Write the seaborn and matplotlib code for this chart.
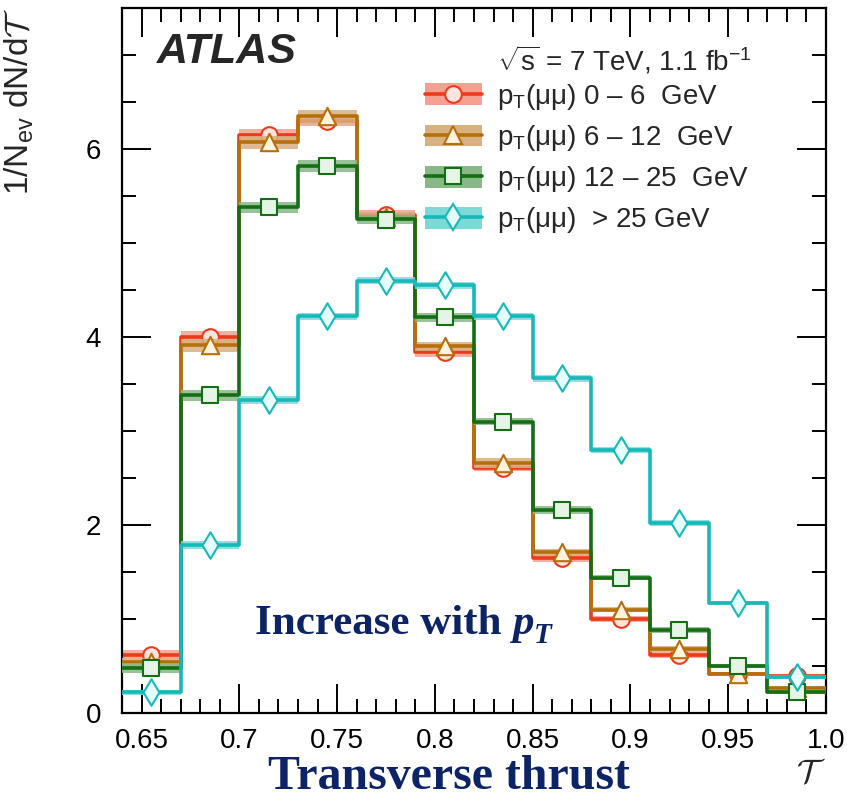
import numpy as np
import pandas as pd
import matplotlib
matplotlib.use("Agg")
import matplotlib.pyplot as plt
import seaborn as sns
from matplotlib.patches import Patch
from matplotlib.lines import Line2D
from matplotlib.ticker import MultipleLocator

# ---------------- data ----------------
bin_edges = [0.64, 0.67, 0.70, 0.73, 0.76, 0.79, 0.82, 0.85, 0.88, 0.91, 0.94, 0.97, 1.00]
series_labels = [
    r"p$_{\rm T}$(μμ) 0 – 6  GeV",
    r"p$_{\rm T}$(μμ) 6 – 12  GeV",
    r"p$_{\rm T}$(μμ) 12 – 25  GeV",
    r"p$_{\rm T}$(μμ)  > 25 GeV",
]
vals_0_6 = [0.62, 4.00, 6.15, 6.30, 5.30, 3.84, 2.61, 1.65, 1.00, 0.62, 0.41, 0.39]
vals_6_12 = [0.54, 3.91, 6.07, 6.35, 5.28, 3.90, 2.66, 1.71, 1.10, 0.68, 0.41, 0.27]
vals_12_25 = [0.48, 3.38, 5.38, 5.82, 5.25, 4.21, 3.10, 2.16, 1.44, 0.88, 0.50, 0.22]
vals_25 = [0.22, 1.79, 3.33, 4.22, 4.60, 4.55, 4.22, 3.56, 2.80, 2.02, 1.17, 0.38]
err_0_6 = [0.05, 0.06, 0.06, 0.06, 0.05, 0.05, 0.04, 0.04, 0.03, 0.03, 0.02, 0.02]
err_6_12 = [0.05, 0.07, 0.07, 0.07, 0.05, 0.05, 0.05, 0.04, 0.03, 0.03, 0.02, 0.02]
err_12_25 = [0.05, 0.06, 0.06, 0.06, 0.05, 0.05, 0.04, 0.04, 0.03, 0.03, 0.02, 0.02]
err_25 = [0.03, 0.04, 0.04, 0.04, 0.04, 0.04, 0.04, 0.04, 0.03, 0.03, 0.02, 0.02]
x_ticks = [0.65, 0.70, 0.75, 0.80, 0.85, 0.90, 0.95, 1.00]
x_ticklabels = ["0.65", "0.7", "0.75", "0.8", "0.85", "0.9", "0.95", "1.0"]
y_ticks = [0, 2, 4, 6]

all_vals = [vals_0_6, vals_6_12, vals_12_25, vals_25]
all_errs = [err_0_6, err_6_12, err_12_25, err_25]

# ---------------- style ----------------
line_colors = ["#ee3a1a", "#b5700c", "#146e14", "#17b8b8"]
band_colors = ["#f5a090", "#d9b07f", "#88b888", "#7fd8d8"]
face_colors = ["#ffe4de", "#fff2df", "#e6f4e6", "#e6ffff"]
markers = ["o", "^", "s", "d"]
msizes = [12, 12.5, 12, 13.5]

sns.set_theme(style="white")
plt.rcParams["font.family"] = ["Liberation Sans", "DejaVu Sans"]
plt.rcParams["mathtext.fontset"] = "custom"
plt.rcParams["mathtext.rm"] = "Liberation Sans"
plt.rcParams["mathtext.it"] = "Liberation Sans:italic"
plt.rcParams["mathtext.bf"] = "Liberation Sans:bold"
plt.rcParams["mathtext.cal"] = "cmsy10"

fig = plt.figure(figsize=(8.47, 7.99), dpi=100)
ax = fig.add_axes([122 / 847, 1 - 713 / 799, (826 - 122) / 847, (713 - 8) / 799])

edges = np.array(bin_edges)
centers = 0.5 * (edges[:-1] + edges[1:])
widths = np.diff(edges)

handles = []
for i in range(4):
    v = np.array(all_vals[i])
    e = np.array(all_errs[i])
    # uncertainty band
    ax.bar(centers, 2 * e, bottom=v - e, width=widths, color=band_colors[i],
           alpha=0.85, linewidth=0, zorder=2 + i)
    df = pd.DataFrame({"x": centers, "w": v})
    sns.histplot(data=df, x="x", weights="w", bins=list(bin_edges), element="step", fill=False,
                 color=line_colors[i], linewidth=2.6, ax=ax, legend=False, zorder=2.3 + i)
    sns.scatterplot(x=centers, y=v, marker=markers[i], s=msizes[i] ** 2,
                    facecolor=face_colors[i], edgecolor=line_colors[i], linewidth=1.5,
                    ax=ax, legend=False, zorder=2.6 + i)
    h = (Patch(facecolor=band_colors[i], edgecolor="none"),
         Line2D([], [], color=line_colors[i], lw=2.6, marker=markers[i],
                markersize=msizes[i], markerfacecolor=face_colors[i],
                markeredgecolor=line_colors[i], markeredgewidth=1.5))
    handles.append(h)

ax.set_xlim(0.64, 1.0)
ax.set_ylim(0, 7.5)
ax.set_xticks(x_ticks)
ax.set_xticklabels(x_ticklabels)
ax.set_yticks(y_ticks)
ax.xaxis.set_minor_locator(MultipleLocator(0.01))
ax.yaxis.set_minor_locator(MultipleLocator(0.5))
ax.tick_params(which="both", direction="in", top=True, right=True, bottom=True, left=True,
               labelsize=20, colors="black", width=1.4)
ax.tick_params(which="major", length=21)
ax.tick_params(which="minor", length=10)
ax.tick_params(axis="x", pad=11)
ax.tick_params(axis="y", pad=15)
for sp in ax.spines.values():
    sp.set_linewidth(1.6)
    sp.set_color("black")

ax.set_xlabel("")
ax.set_ylabel("")
ax.text(-0.146, 1.0, r"1/N$_{\rm ev}$ dN/d$\mathcal{T}$", transform=ax.transAxes,
        rotation=90, ha="center", va="top", fontsize=24)

ax.text(1.0, -0.063, r"$\mathcal{T}$", transform=ax.transAxes, ha="right", va="top",
        fontsize=24)

ax.text(0.05, 0.938, "ATLAS", transform=ax.transAxes, fontsize=31, fontweight="bold",
        fontstyle="italic", ha="left", va="center")
ax.text(0.532, 0.926, r"$\sqrt{\rm s}$ = 7 TeV, 1.1 fb$^{-1}$", transform=ax.transAxes,
        fontsize=20, ha="left", va="center")

ax.legend(handles=handles, labels=series_labels, loc="upper left",
          bbox_to_anchor=(0.430, 0.895), frameon=False, fontsize=20,
          handlelength=2.05, handleheight=0.83, labelspacing=0.40, handletextpad=0.54,
          borderaxespad=0, borderpad=0)

navy = "#0c2466"
t1 = ax.text(0.189, 0.112, "Increase with ", transform=ax.transAxes,
             fontsize=31, fontweight="bold", family="Liberation Serif", color=navy,
             ha="left", va="baseline")
t2 = ax.annotate("p", xy=(1, 0), xycoords=t1, xytext=(0, 0), textcoords="offset points",
                 fontsize=31, fontweight="bold", fontstyle="italic", family="Liberation Serif",
                 color=navy, ha="left", va="bottom")
ax.annotate("T", xy=(1, 0), xycoords=t2, xytext=(0, -4), textcoords="offset points",
            fontsize=21, fontweight="bold", fontstyle="italic", family="Liberation Serif",
            color=navy, ha="left", va="bottom")
fig.text(0.53, 0.027, "Transverse thrust", fontsize=34.5, fontweight="bold",
         family="Liberation Serif", color=navy, ha="center", va="center")

fig.savefig("out.png", dpi=100)
